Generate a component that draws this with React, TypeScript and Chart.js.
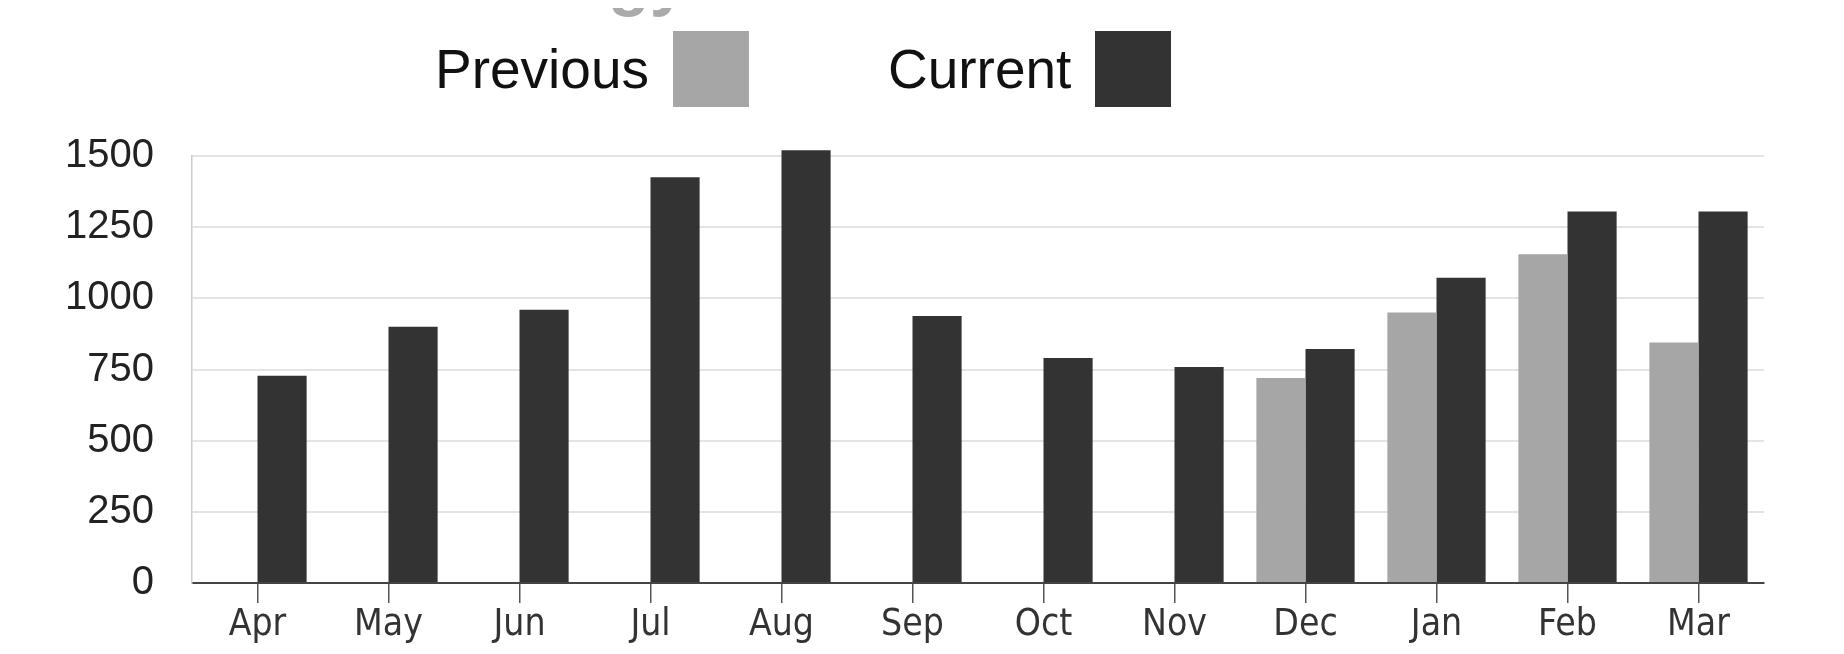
import React, { useEffect, useRef } from "react";
import { Chart, registerables } from "chart.js";

Chart.register(...registerables);

const categories = ["Apr", "May", "Jun", "Jul", "Aug", "Sep", "Oct", "Nov", "Dec", "Jan", "Feb", "Mar"];
const previousValues: (number | null)[] = [null, null, null, null, null, null, null, null, 720, 950, 1155, 845];
const currentValues: number[] = [728, 900, 960, 1425, 1520, 938, 790, 759, 822, 1072, 1305, 1305];
const seriesNames = ["Previous", "Current"];
const seriesColors = ["#a6a6a6", "#333333"];
const yMin = 0;
const yMax = 1500;
const yStep = 250;
const titleText = "Energy";

export default function App() {
  const canvasRef = useRef<HTMLCanvasElement | null>(null);

  useEffect(() => {
    if (!canvasRef.current) return;
    const chart = new Chart(canvasRef.current, {
      type: "bar",
      data: {
        labels: categories,
        datasets: [
          {
            label: seriesNames[0],
            data: previousValues,
            backgroundColor: seriesColors[0],
            borderWidth: 0,
            categoryPercentage: 0.75,
            barPercentage: 1.0,
            clip: false as any,
          },
          {
            label: seriesNames[1],
            data: currentValues,
            backgroundColor: seriesColors[1],
            borderWidth: 0,
            categoryPercentage: 0.75,
            barPercentage: 1.0,
            clip: false as any,
          },
        ],
      },
      options: {
        animation: false,
        responsive: true,
        maintainAspectRatio: false,
        layout: { padding: { top: 148, left: 0, right: 72, bottom: 0 } },
        plugins: {
          legend: { display: false },
          title: { display: false },
          tooltip: { enabled: false },
        },
        scales: {
          x: {
            grid: {
              display: true,
              drawOnChartArea: false,
              drawTicks: true,
              tickLength: 20,
              color: "#555555",
              lineWidth: 1.5,
              offset: false,
            },
            border: { display: true, color: "#444444", width: 2 },
            ticks: {
              color: "#333333",
              padding: 0,
              maxRotation: 0,
              autoSkip: false,
              font: { family: "'Liberation Sans Narrow', 'DejaVu Sans Condensed', 'Liberation Sans', sans-serif", size: 37 },
            },
            afterFit: (scale: any) => {
              scale.height = 63;
            },
          },
          y: {
            min: yMin,
            max: yMax,
            ticks: {
              stepSize: yStep,
              color: "#222222",
              padding: 38,
              font: { family: "'Liberation Sans', Arial, sans-serif", size: 40 },
              callback: (value: any) => String(value),
            },
            grid: { color: "#e4e4e4", lineWidth: 2, drawTicks: false },
            border: { display: true, color: "#cccccc", width: 1.5 },
            afterFit: (scale: any) => {
              scale.width = 184;
            },
          },
        },
      },
    });
    return () => chart.destroy();
  }, []);

  const legendText: React.CSSProperties = {
    fontFamily: "'Liberation Sans', Arial, sans-serif",
    fontSize: 55,
    color: "#111111",
    lineHeight: "76px",
  };

  return (
    <div style={{ position: "relative", width: 1828, height: 638 }}>
      <div
        style={{
          position: "absolute",
          left: 449,
          top: -63,
          fontFamily: "'Liberation Sans', Arial, sans-serif",
          fontWeight: "bold",
          fontSize: 68,
          lineHeight: "68px",
          color: "#aaaaaa",
          whiteSpace: "nowrap",
        }}
      >
        {titleText}
      </div>
      <div
        style={{
          position: "absolute",
          left: 427,
          top: 23,
          height: 76,
          display: "flex",
          alignItems: "center",
          whiteSpace: "nowrap",
        }}
      >
        <span style={legendText}>{seriesNames[0]}</span>
        <span style={{ display: "inline-block", width: 76, height: 76, marginLeft: 24, background: seriesColors[0] }} />
        <span style={{ ...legendText, marginLeft: 139 }}>{seriesNames[1]}</span>
        <span style={{ display: "inline-block", width: 76, height: 76, marginLeft: 24, background: seriesColors[1] }} />
      </div>
      <canvas ref={canvasRef} />
    </div>
  );
}
